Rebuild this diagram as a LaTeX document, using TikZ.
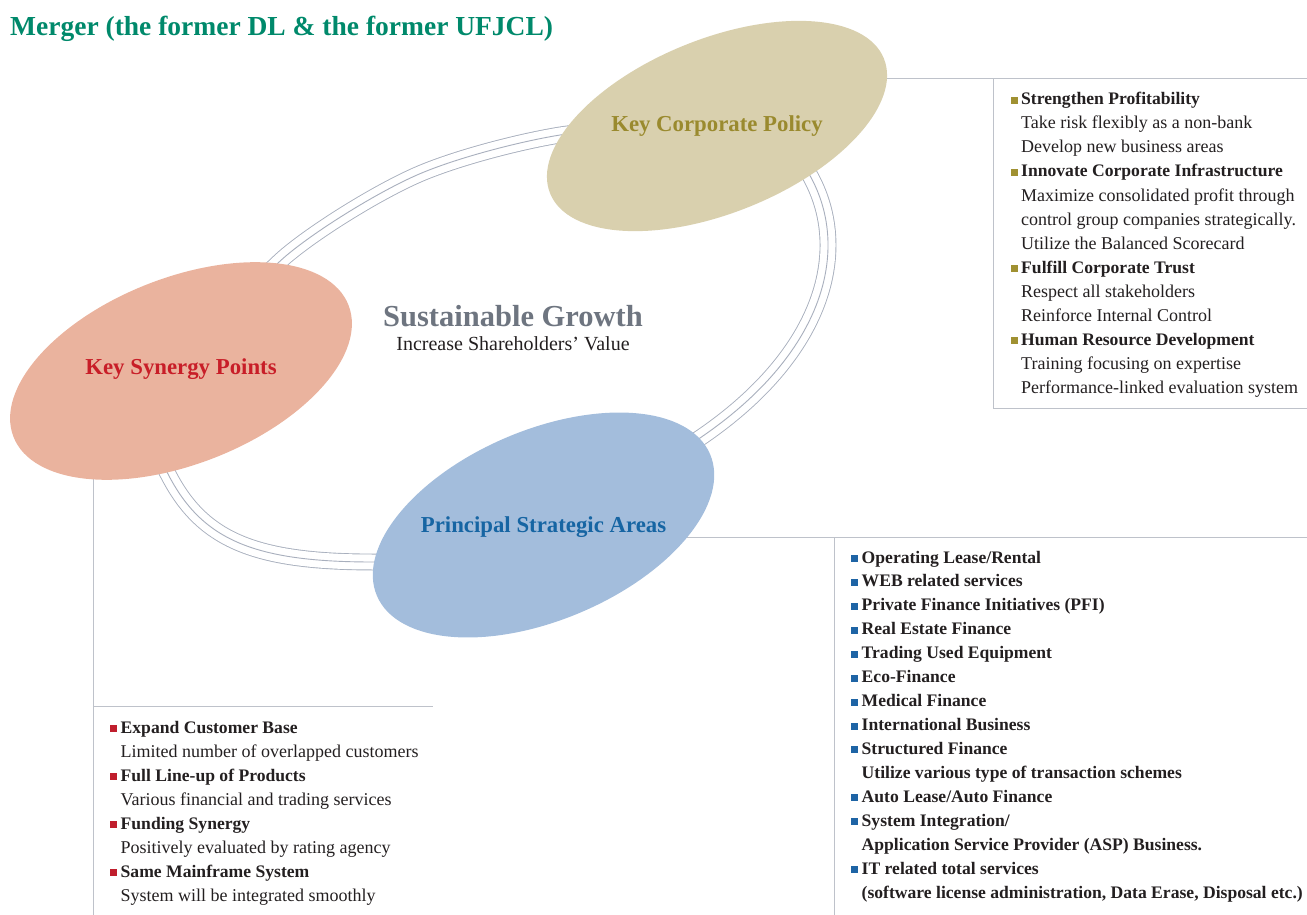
\documentclass[tikz,border=0pt]{standalone}
\usepackage{fontspec}
\setmainfont{Liberation Serif}
\usetikzlibrary{shapes.geometric}
\pgfdeclarelayer{bg}
\pgfsetlayers{bg,main}

\definecolor{titlegreen}{RGB}{0,137,107}
\definecolor{ink}{RGB}{35,31,32}
\definecolor{policyfill}{RGB}{217,208,174}
\definecolor{policytext}{RGB}{154,138,46}
\definecolor{synfill}{RGB}{234,179,158}
\definecolor{syntext}{RGB}{200,30,40}
\definecolor{areafill}{RGB}{163,189,220}
\definecolor{areatext}{RGB}{22,101,163}
\definecolor{growthgray}{RGB}{110,117,128}
\definecolor{ringgray}{RGB}{168,175,189}
\definecolor{rulegray}{RGB}{190,194,202}
\definecolor{bulgold}{RGB}{160,145,50}
\definecolor{bulred}{RGB}{192,30,45}
\definecolor{bulblue}{RGB}{30,100,165}

\newcommand\bodyfont{\fontsize{18}{24}\selectfont}
\newcommand\headfont{\fontsize{17.6}{24}\selectfont\bfseries}
\newcommand\blobfont{\fontsize{22.8}{27}\selectfont\bfseries}
\newcommand\sqbullet[1]{\llap{\textcolor{#1}{\rule[1pt]{7pt}{7pt}}\hspace{3.5pt}}}

\begin{document}
\begin{tikzpicture}[x=1pt,y=-1pt,
  blob/.style={ellipse, inner sep=0pt, outer sep=0pt, draw=none},
  bloblabel/.style={anchor=base, inner sep=0pt, font=\blobfont},
  ring/.style={draw=white, line width=15pt,
    preaction={draw=ringgray, line width=16.8pt},
    postaction={draw=ringgray, line width=0.9pt}},
  boxline/.style={draw=rulegray, line width=1pt},
  sub/.style={anchor=base west, inner sep=0pt, font=\bodyfont, text=ink},
  hd/.style={sub, font=\headfont},
  hdgold/.style={hd, execute at begin node={\sqbullet{bulgold}}},
  hdred/.style={hd, execute at begin node={\sqbullet{bulred}}},
  hdblue/.style={hd, execute at begin node={\sqbullet{bulblue}}}]

\useasboundingbox (0,0) rectangle (1307,915);

% title
\node[anchor=base west, inner sep=0pt, font=\fontsize{27.5}{32}\selectfont\bfseries, text=titlegreen]
  (title) at (10,36) {Merger (the former DL \& the former UFJCL)};

% the three tilted ellipses
\node[blob, fill=policyfill, minimum width=360pt, minimum height=174pt, rotate=22] (pol) at (717,126) {};
\node[blob, fill=synfill, minimum width=360pt, minimum height=186pt, rotate=21.5] (syn) at (181,371) {};
\node[blob, fill=areafill, minimum width=362pt, minimum height=190pt, rotate=23] (area) at (543.5,525) {};

\node[bloblabel, text=policytext] (polL) at (717,132) {Key Corporate Policy};
\node[bloblabel, text=syntext] (synL) at (181,374) {Key Synergy Points};
\node[bloblabel, text=areatext] (areaL) at (543.5,532) {Principal Strategic Areas};

% centre statement
\node[anchor=base, inner sep=0pt, font=\fontsize{30.5}{34}\selectfont\bfseries, text=growthgray]
  (growth) at (513,326) {Sustainable Growth};
\node[anchor=base, inner sep=0pt, font=\fontsize{20}{24}\selectfont, text=ink]
  (value) at (513,350) {Increase Shareholders’ Value};

% corner points of the list frames
\coordinate (trTop) at (1307,79);
\coordinate (trV1) at (993,79);
\coordinate (trV2) at (993,408);
\coordinate (trBot) at (1307,408);
\coordinate (brTop) at (1307,537);
\coordinate (brV1) at (834,537);
\coordinate (brV2) at (834,915);
\coordinate (blV) at (93,915);
\coordinate (blH1) at (93,706);
\coordinate (blH2) at (433,706);

\begin{pgfonlayer}{bg}
  % triple-line ring linking the ellipses
  \draw[ring] plot[smooth] coordinates {(syn.center) (287,255) (417,175) (560,135) (pol.center)};
  \draw[ring] (pol.center) -- (800,160)
     .. controls (862,245) and (825,375) .. (650,468) -- (area.center);
  \draw[ring] (syn.center) -- (157,452) -- (166,470)
     .. controls (199.8,539) and (251.5,562) .. (373,562) -- (400,562) -- (area.center);
  % frames towards the lists
  \draw[boxline] (pol.center |- trTop) -- (trTop);
  \draw[boxline] (trV1) -- (trV2) -- (trBot);
  \draw[boxline] (area.center |- brTop) -- (brTop);
  \draw[boxline] (brV1) -- (brV2);
  \draw[boxline] (blV |- syn.center) -- (blV);
  \draw[boxline] (blH1) -- (blH2);
\end{pgfonlayer}

% policy list
\foreach \s/\t [count=\i from 0] in {
  hdgold/Strengthen Profitability,
  sub/Take risk flexibly as a non-bank,
  sub/Develop new business areas,
  hdgold/Innovate Corporate Infrastructure,
  sub/Maximize consolidated profit through,
  sub/control group companies strategically.,
  sub/Utilize the Balanced Scorecard,
  hdgold/Fulfill Corporate Trust,
  sub/Respect all stakeholders,
  sub/Reinforce Internal Control,
  hdgold/Human Resource Development,
  sub/Training focusing on expertise,
  sub/Performance-linked evaluation system}
  \node[\s] (polItem\i) at (1021,{105+24*\i}) {\t};

% synergy list
\foreach \s/\t [count=\i from 0] in {
  hdred/Expand Customer Base,
  sub/Limited number of overlapped customers,
  hdred/Full Line-up of Products,
  sub/Various financial and trading services,
  hdred/Funding Synergy,
  sub/Positively evaluated by rating agency,
  hdred/Same Mainframe System,
  sub/System will be integrated smoothly}
  \node[\s] (synItem\i) at (120.5,{733+24*\i}) {\t};

% strategic areas list
\foreach \s/\t [count=\i from 0] in {
  hdblue/{Operating Lease/Rental},
  hdblue/WEB related services,
  hdblue/Private Finance Initiatives (PFI),
  hdblue/Real Estate Finance,
  hdblue/Trading Used Equipment,
  hdblue/Eco-Finance,
  hdblue/Medical Finance,
  hdblue/International Business,
  hdblue/Structured Finance,
  hd/Utilize various type of transaction schemes,
  hdblue/{Auto Lease/Auto Finance},
  hdblue/{System Integration/},
  hd/Application Service Provider (ASP) Business.,
  hdblue/IT related total services,
  hd/{(software license administration, Data Erase, Disposal etc.)}}
  \node[\s] (areaItem\i) at (861.5,{563+23.93*\i}) {\t};

\end{tikzpicture}
\end{document}
